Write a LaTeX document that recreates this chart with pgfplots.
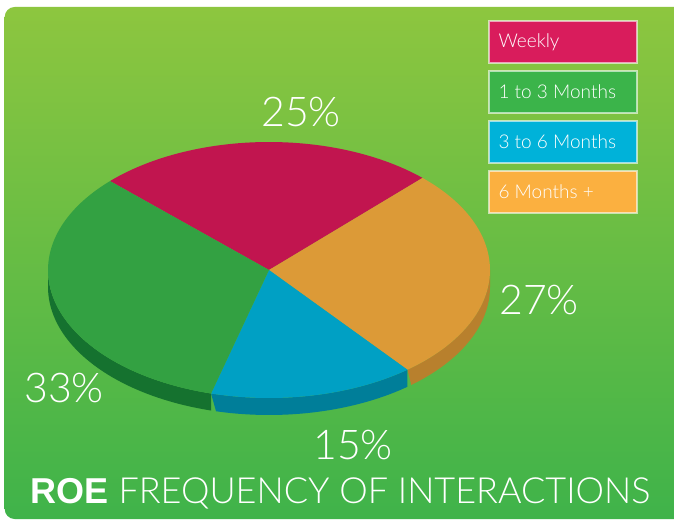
\documentclass[border=0pt]{standalone}
\usepackage{pgfplots}
\pgfplotsset{compat=1.18}
\usepackage{pgfplotstable}
\usepackage{fontspec}
\setmainfont{Liberation Sans}
\newfontfamily\thin{Lato Light}
\definecolor{bgTop}{HTML}{8DC63F}
\definecolor{bgMid}{HTML}{76C043}
\definecolor{bgBot}{HTML}{3FB34A}
\definecolor{faceW}{HTML}{C1154F}
\definecolor{faceO}{HTML}{DC9A37}
\definecolor{faceB}{HTML}{00A0C4}
\definecolor{faceG}{HTML}{33A142}
\definecolor{sideO}{HTML}{B8802D}
\definecolor{sideB}{HTML}{007E99}
\definecolor{sideG}{HTML}{15722F}
\definecolor{legW}{HTML}{D91C5C}
\definecolor{legG}{HTML}{3BB44A}
\definecolor{legB}{HTML}{00B2D9}
\definecolor{legO}{HTML}{FBB040}
\pgfplotstableread{
slice value
Weekly 25
SixPlus 27
ThreeSix 15
OneThree 33
}\pietable
% side band of a slice between angles #1 and #2 (front half only)
\newcommand\sideband[3]{%
\addplot[fill=#3, draw=none, samples at={0,0.025,...,1,1.00001,1.025,1.05,...,2}]
 ({269+221*cos(#1+(#2-#1)*(1-abs(1-x)))},{252-17*(x>1)+128*sin(#1+(#2-#1)*(1-abs(1-x)))}) -- cycle;}
\newcommand\face[3]{%
\addplot[fill=#3, draw=none, domain=#1:#2, samples=60]
 ({269+221*cos(x)},{252+128*sin(x)}) -- (axis cs:269,252) -- cycle;}
\begin{document}%
\begin{tikzpicture}
\pgfplotstablegetelem{0}{value}\of\pietable \pgfmathsetmacro\vA{\pgfplotsretval}
\pgfplotstablegetelem{1}{value}\of\pietable \pgfmathsetmacro\vB{\pgfplotsretval}
\pgfplotstablegetelem{2}{value}\of\pietable \pgfmathsetmacro\vC{\pgfplotsretval}
\pgfplotstablegetelem{3}{value}\of\pietable \pgfmathsetmacro\vD{\pgfplotsretval}
\pgfmathsetmacro\aO{136}
\pgfmathsetmacro\aA{\aO-3.6*\vA}
\pgfmathsetmacro\aB{\aA-3.6*\vB}
\pgfmathsetmacro\aC{\aB-3.6*\vC}
\pgfmathsetmacro\aD{\aC-3.6*\vD}
\fill[white] (0,0) rectangle (674pt,522pt);
\shade[top color=bgTop, middle color=bgMid, bottom color=bgBot, rounded corners=10pt] (4.7pt,3pt) rectangle (700pt,515pt);
\begin{axis}[name=ax, scale only axis, width=674pt, height=522pt,
  xmin=0, xmax=674, ymin=0, ymax=522, hide axis, clip=false]
% sides (front half)
\sideband{\aB}{0}{sideO}
\sideband{\aC}{\aB}{sideB}
\sideband{-180}{\aC}{sideG}
% top faces
\face{\aA}{\aO}{faceW}
\face{\aB}{\aA}{faceO}
\face{\aC}{\aB}{faceB}
\face{\aD}{\aC}{faceG}
% percentage labels
\node[white, font=\thin\fontsize{41}{41}\selectfont] at (axis cs:301,409.5) {25\%};
\node[white, font=\thin\fontsize{41}{41}\selectfont] at (axis cs:539,222) {27\%};
\node[white, font=\thin\fontsize{41}{41}\selectfont] at (axis cs:64,134) {33\%};
\node[white, font=\thin\fontsize{41}{41}\selectfont] at (axis cs:353,77) {15\%};
% legend boxes
\filldraw[fill=legW, draw=white, draw opacity=0.6, line width=1.2pt] (axis cs:489,459) rectangle (axis cs:637,501);
\filldraw[fill=legG, draw=white, draw opacity=0.6, line width=1.2pt] (axis cs:489,409) rectangle (axis cs:637,451);
\filldraw[fill=legB, draw=white, draw opacity=0.6, line width=1.2pt] (axis cs:489,359) rectangle (axis cs:637,401);
\filldraw[fill=legO, draw=white, draw opacity=0.6, line width=1.2pt] (axis cs:489,309) rectangle (axis cs:637,351);
\node[white, anchor=west, font=\thin\fontsize{19}{19}\selectfont] at (axis cs:495,480) {Weekly};
\node[white, anchor=west, font=\thin\fontsize{19}{19}\selectfont] at (axis cs:495,430) {1 to 3 Months};
\node[white, anchor=west, font=\thin\fontsize{19}{19}\selectfont] at (axis cs:495,380) {3 to 6 Months};
\node[white, anchor=west, font=\thin\fontsize{19}{19}\selectfont] at (axis cs:495,330) {6 Months +};
% title
\node[white, anchor=base, font=\fontsize{36}{36}\selectfont] at (axis cs:340.5,19) {\textbf{ROE} {\thin FREQUENCY OF INTERACTIONS}};
\end{axis}
\pgfresetboundingbox
\path[use as bounding box] (0,0) rectangle (674pt,522pt);
\end{tikzpicture}%
\end{document}
